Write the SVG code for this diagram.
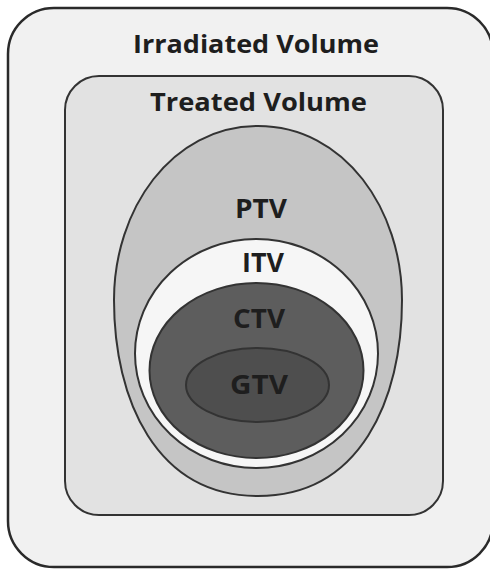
<svg xmlns="http://www.w3.org/2000/svg" width="490" height="569" viewBox="0 0 490 569">
<style>
.lbl{font-family:"Open Sans","Liberation Sans",sans-serif;font-weight:700;fill:#1e1e1e;text-anchor:middle}
.edge{stroke:#333;stroke-width:2}
</style>
<rect width="490" height="569" fill="#ffffff"/>
<g id="irradiated">
<rect x="8" y="8" width="485" height="559" rx="46" ry="46" fill="#f1f1f1" stroke="#2a2a2a" stroke-width="2.5"/>
<text class="lbl" x="256" y="53" font-size="25" textLength="246" lengthAdjust="spacingAndGlyphs">Irradiated Volume</text>
</g>
<g id="treated">
<rect x="65" y="76" width="378" height="439" rx="34" ry="34" fill="#e2e2e2" class="edge"/>
<text class="lbl" x="258.5" y="111" font-size="25" textLength="217" lengthAdjust="spacingAndGlyphs">Treated Volume</text>
</g>
<g id="ptv">
<path d="M258 126 C345 126 402 210 402 300 C402 400 360 496 258 496 C156 496 114 400 114 300 C114 210 171 126 258 126 Z" fill="#c5c5c5" class="edge"/>
<text class="lbl" x="261" y="218" font-size="26" textLength="52" lengthAdjust="spacingAndGlyphs">PTV</text>
</g>
<g id="itv">
<ellipse cx="256.5" cy="353.5" rx="121.5" ry="114.5" fill="#f6f6f6" class="edge"/>
<text class="lbl" x="263" y="272" font-size="26" textLength="42" lengthAdjust="spacingAndGlyphs">ITV</text>
</g>
<g id="ctv">
<ellipse cx="256.5" cy="370.5" rx="107" ry="87.5" fill="#5d5d5d" class="edge"/>
<text class="lbl" x="259" y="328" font-size="26" textLength="52" lengthAdjust="spacingAndGlyphs">CTV</text>
</g>
<g id="gtv">
<ellipse cx="257.5" cy="385" rx="71.5" ry="37" fill="#4e4e4e" class="edge"/>
<text class="lbl" x="259" y="394" font-size="26" textLength="58" lengthAdjust="spacingAndGlyphs">GTV</text>
</g>
<g id="connectors"></g>
</svg>
